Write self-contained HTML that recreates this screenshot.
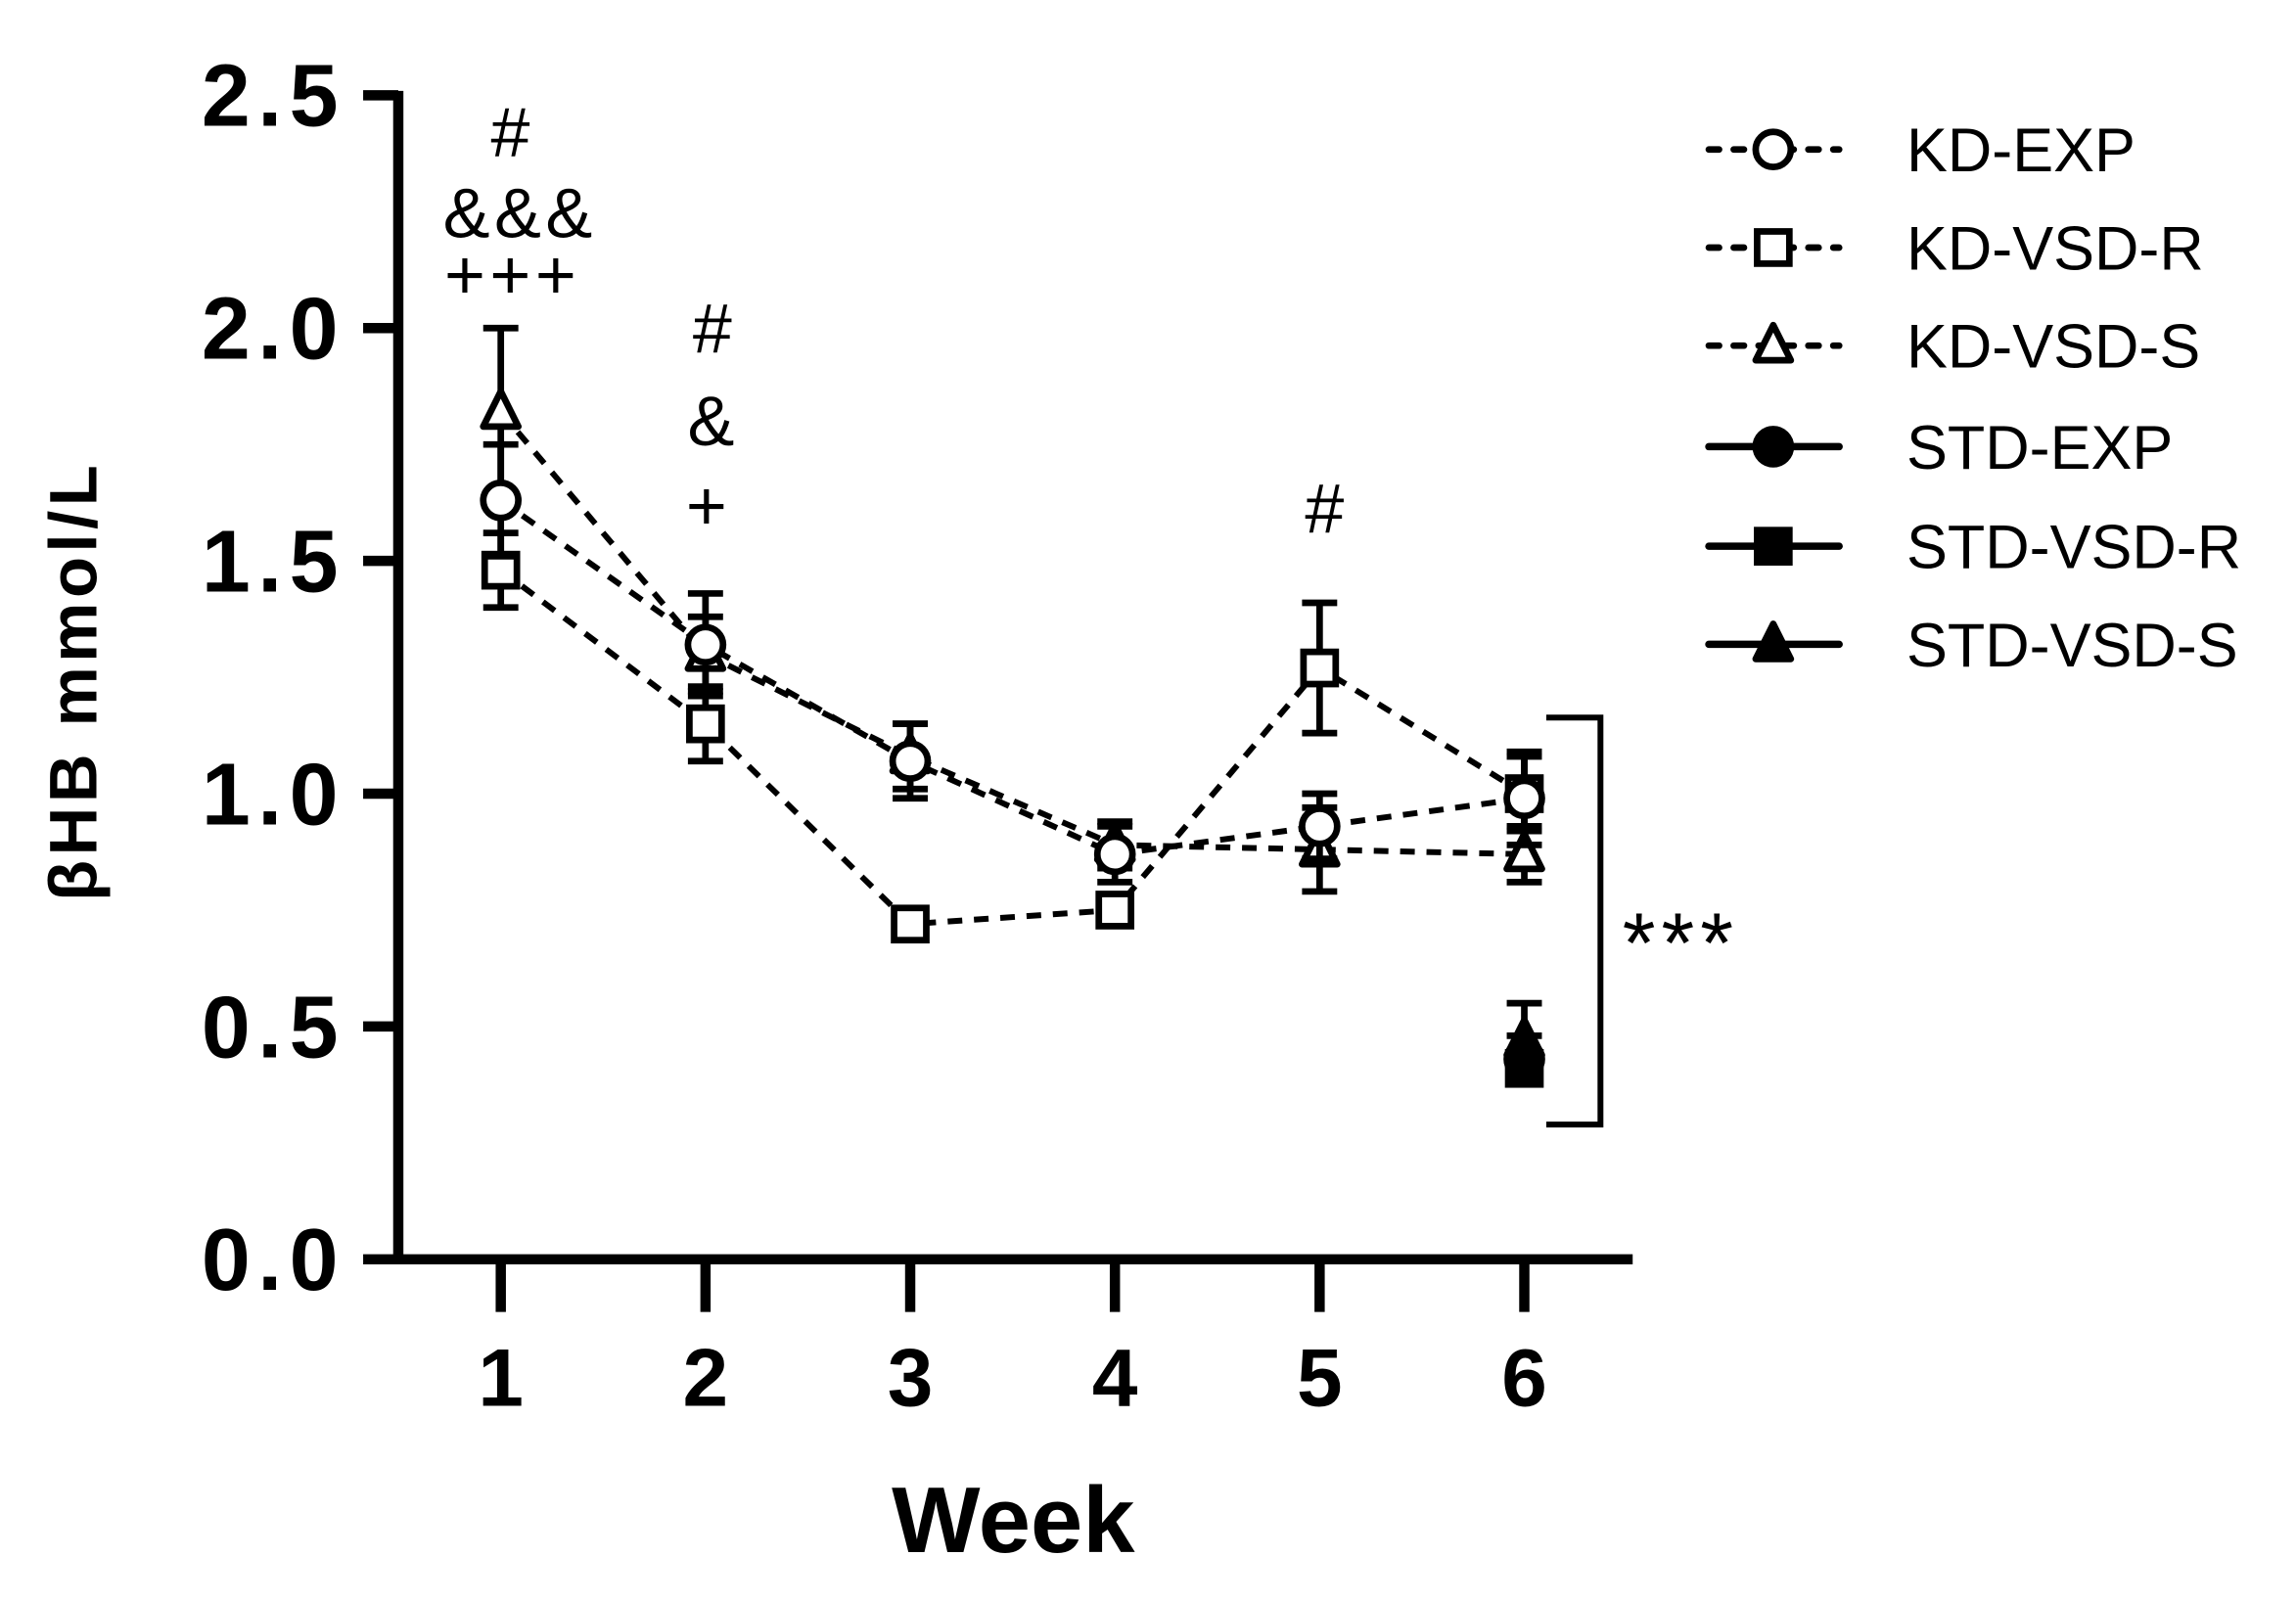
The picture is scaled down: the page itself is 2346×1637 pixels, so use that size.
<!DOCTYPE html>
<html><head><meta charset="utf-8"><style>
html,body{margin:0;padding:0;background:#fff}
svg{display:block}
text{font-family:"Liberation Sans",Arial,sans-serif;fill:#000}
</style></head><body>
<svg id="chart" width="2346" height="1637" viewBox="0 0 1568 1094" xmlns="http://www.w3.org/2000/svg">
<g id="axes"></g>
<g id="plot"></g>
<g id="legend"></g>
</svg>
<script>
const weeks = [1,2,3,4,5,6];
const yTicks = [0,0.5,1.0,1.5,2.0,2.5];
const yTickLabels = ["0.0","0.5","1.0","1.5","2.0","2.5"];
const kdExp = [1.63,1.32,1.07,0.87,0.93,0.99];
const kdExpErr = [0.12,0.11,0.08,0.06,0.07,0.10];
const kdR = [1.48,1.15,0.72,0.75,1.27,1.00];
const kdRErr = [0.08,0.08,0.02,0.02,0.14,0.08];
const kdS = [1.82,1.30,1.08,0.89,0.88,0.87];
const kdSErr = [0.18,0.08,0.07,0.05,0.09,0.06];
const stdWeeks = [6];
const stdExp = [0.43]; const stdExpErr = [0.05];
const stdR = [0.41]; const stdRErr = [0.02];
const stdS = [0.47]; const stdSErr = [0.08];
const legendLabels = ["KD-EXP","KD-VSD-R","KD-VSD-S","STD-EXP","STD-VSD-R","STD-VSD-S"];

const NS="http://www.w3.org/2000/svg";
const X0=272, X1=1115, Y0=860, YTOP=65;
function xs(w){return 342+(w-1)*139.8;}
function ys(v){return Y0-(v/2.5)*(Y0-YTOP);}
function mk(tag,attrs,parent){const e=document.createElementNS(NS,tag);for(const k in attrs)e.setAttribute(k,attrs[k]);parent.appendChild(e);return e;}
const axes=document.getElementById('axes'), plot=document.getElementById('plot'), legend=document.getElementById('legend');

let e;
e=mk('line',{x1:X0,y1:YTOP-3,x2:X0,y2:Y0+3,stroke:'#000','stroke-width':7},axes);

e=mk('line',{x1:X0-3,y1:Y0,x2:X1,y2:Y0,stroke:'#000','stroke-width':7},axes);

yTicks.forEach((t,i)=>{
  e=mk('line',{x1:X0-24,y1:ys(t),x2:X0,y2:ys(t),stroke:'#000','stroke-width':7},axes);
  
  e=mk('text',{x:X0-36,y:ys(t)+21,'text-anchor':'end','font-size':60,'font-weight':'bold','letter-spacing':'5'},axes);
  e.textContent=yTickLabels[i];
  
});
weeks.forEach(w=>{
  e=mk('line',{x1:xs(w),y1:Y0,x2:xs(w),y2:Y0+36,stroke:'#000','stroke-width':7},axes);
  
  e=mk('text',{x:xs(w),y:Y0+100,'text-anchor':'middle','font-size':56,'font-weight':'bold'},axes);
  e.textContent=String(w);
  
});
e=mk('text',{x:692,y:1060,'text-anchor':'middle','font-size':64,'font-weight':'bold'},axes);
e.textContent='Week';

e=mk('text',{x:66,y:465,'text-anchor':'middle','font-size':46,'font-weight':'bold','letter-spacing':'3',transform:'rotate(-90 66 465)'},axes);
e.textContent='βHB mmol/L';


function errbar(x,v,err,g){
  mk('line',{x1:x,y1:ys(v-err),x2:x,y2:ys(v+err),stroke:'#000','stroke-width':4.5},g);
  mk('line',{x1:x-12,y1:ys(v+err),x2:x+12,y2:ys(v+err),stroke:'#000','stroke-width':4.5},g);
  mk('line',{x1:x-12,y1:ys(v-err),x2:x+12,y2:ys(v-err),stroke:'#000','stroke-width':4.5},g);
}
function marker(shape,x,y,filled,g){
  const f=filled?'#000':'#fff';
  if(shape==='circle') return mk('circle',{cx:x,cy:y,r:12,fill:f,stroke:'#000','stroke-width':4.5},g);
  if(shape==='square') return mk('rect',{x:x-11,y:y-11,width:22,height:22,fill:f,stroke:'#000','stroke-width':4.5},g);
  return mk('polygon',{points:`${x},${y-14} ${x+12},${y+10} ${x-12},${y+10}`,fill:f,stroke:'#000','stroke-width':4.5,'stroke-linejoin':'round'},g);
}
function series(name,xv,vals,errs,shape,filled){
  const g=mk('g',{},plot);
  
  const pts=vals.map((v,i)=>xs(xv[i])+','+ys(v)).join(' ');
  if(vals.length>1) mk('polyline',{points:pts,fill:'none',stroke:'#000','stroke-width':4,'stroke-dasharray':filled?'none':'10 8'},g);
  vals.forEach((v,i)=>errbar(xs(xv[i]),v,errs[i],g));
  vals.forEach((v,i)=>{const m=marker(shape,xs(xv[i]),ys(v),filled,g);
    });
}
series('series-kd-vsd-r',weeks,kdR,kdRErr,'square',false);
series('series-kd-vsd-s',weeks,kdS,kdSErr,'triangle',false);
series('series-kd-exp',weeks,kdExp,kdExpErr,'circle',false);
series('series-std-exp',stdWeeks,stdExp,stdExpErr,'circle',true);
series('series-std-vsd-r',stdWeeks,stdR,stdRErr,'square',true);
series('series-std-vsd-s',stdWeeks,stdS,stdSErr,'triangle',true);

const ann=[[350,107,'#'],[355,162,'&&&'],[350,204,'+++'],[488,241,'#'],[487,304,'&'],[484,362,'+'],[906,364,'#']];
ann.forEach(a=>{e=mk('text',{x:a[0],y:a[1],'text-anchor':'middle','font-size':48,'letter-spacing':'3'},plot);e.textContent=a[2];
  });
e=mk('polyline',{points:'1056,490 1093,490 1093,768 1056,768',fill:'none',stroke:'#000','stroke-width':4},plot);

e=mk('text',{x:1108,y:664,'font-size':58,'letter-spacing':'4'},plot);e.textContent='***';


const shapes=['circle','square','triangle','circle','square','triangle'];
const rowY=[102,169,236,305,373,440];
legendLabels.forEach((lab,i)=>{
  const g=mk('g',{},legend);
  
  const filled=i>=3;
  mk('line',{x1:1167,y1:rowY[i],x2:1256,y2:rowY[i],stroke:'#000','stroke-width':filled?5:4.5,'stroke-dasharray':filled?'none':'7 10','stroke-linecap':'round'},g);
  marker(shapes[i],1211,rowY[i],filled,g);
  const t=mk('text',{x:1302,y:rowY[i]+15,'font-size':42},g);t.textContent=lab;
});
</script>
</body></html>
